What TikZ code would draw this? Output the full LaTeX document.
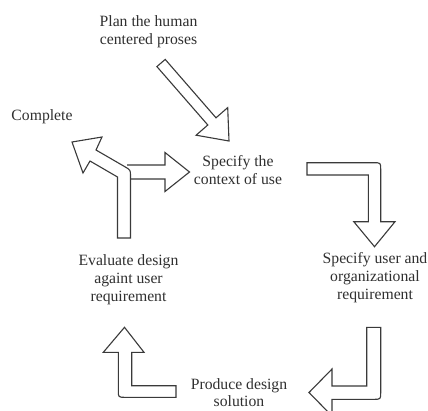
\documentclass[tikz,border=0pt]{standalone}
\usepackage{fontspec}
\setmainfont{Liberation Serif}
\definecolor{lineg}{HTML}{3A3A3A}
\definecolor{textg}{HTML}{303030}
\begin{document}
\begin{tikzpicture}[x=1pt,y=-1pt,
  blockarrow/.style={draw=lineg,fill=white,line width=1.1pt,line join=miter},
  label/.style={align=center,text=textg,inner sep=0pt,font=\fontsize{15.7}{18}\selectfont}]
\useasboundingbox (0,0) rectangle (428,410);
\fill[white] (0,0) rectangle (428,410);
\clip (0,0) rectangle (428,410);

% labels
\node[label] (plan) at (148.5,32) {Plan the human\\centered proses};
\node[label] (complete) at (42,117) {Complete};
\node[label] (context) at (238,170) {Specify the\\context of use};
\node[label] (userreq) at (375,278) {Specify user and\\organizational\\requirement};
\node[label] (evaluate) at (128.5,280) {Evaluate design\\againt user\\requirement};
\node[label,font=\fontsize{15.7}{16.5}\selectfont] (produce) at (239,392.5) {Produce design\\solution};

% diagonal arrow from plan to context
\draw[blockarrow] (165.2,59.4) -- (216.0,117.8) -- (227.7,107.6) -- (229,141)
  -- (196.1,135.2) -- (207.8,125.0) -- (156.9,66.6) -- cycle;

% top right bent arrow
\draw[blockarrow] (307,162.7) -- (373.7,162.7) .. controls (380.7,162.7) .. (380.7,169.7)
  -- (380.7,221.7) -- (395,221.7) -- (374.5,246.7) -- (353.8,221.7) -- (368.3,221.7)
  -- (368.3,175) -- (307,175) -- cycle;

% bottom right bent arrow
\draw[blockarrow] (366.7,327.3) -- (380.7,327.3) -- (380.7,392.3) .. controls (380.7,399.3) .. (373.7,399.3)
  -- (332,399.3) -- (332,416) -- (309,392.5) -- (332,369) -- (332,386) -- (366.7,386) -- cycle;

% bottom left bent arrow
\draw[blockarrow] (176,385.7) -- (131.7,385.7) -- (131.7,352.3) -- (144,352.3) -- (124.5,327.3)
  -- (103.3,352.3) -- (118.3,352.3) -- (118.3,390.3) .. controls (118.3,397.3) .. (125.3,397.3)
  -- (176,397.3) -- cycle;

% right arrow towards context (behind)
\draw[blockarrow] (127,165) -- (165,165) -- (165,152.5) -- (189.5,172) -- (165,191.5)
  -- (165,179) -- (127,179);

% fork arrow: up then up-left to complete
\draw[blockarrow] (117.5,238) -- (130.5,238) -- (130.5,176) .. controls (130.5,170) .. (125,166.8)
  -- (96,150) -- (102,137) -- (72,142) -- (83,173) -- (90,161) -- (117.5,177) -- cycle;
\end{tikzpicture}
\end{document}
